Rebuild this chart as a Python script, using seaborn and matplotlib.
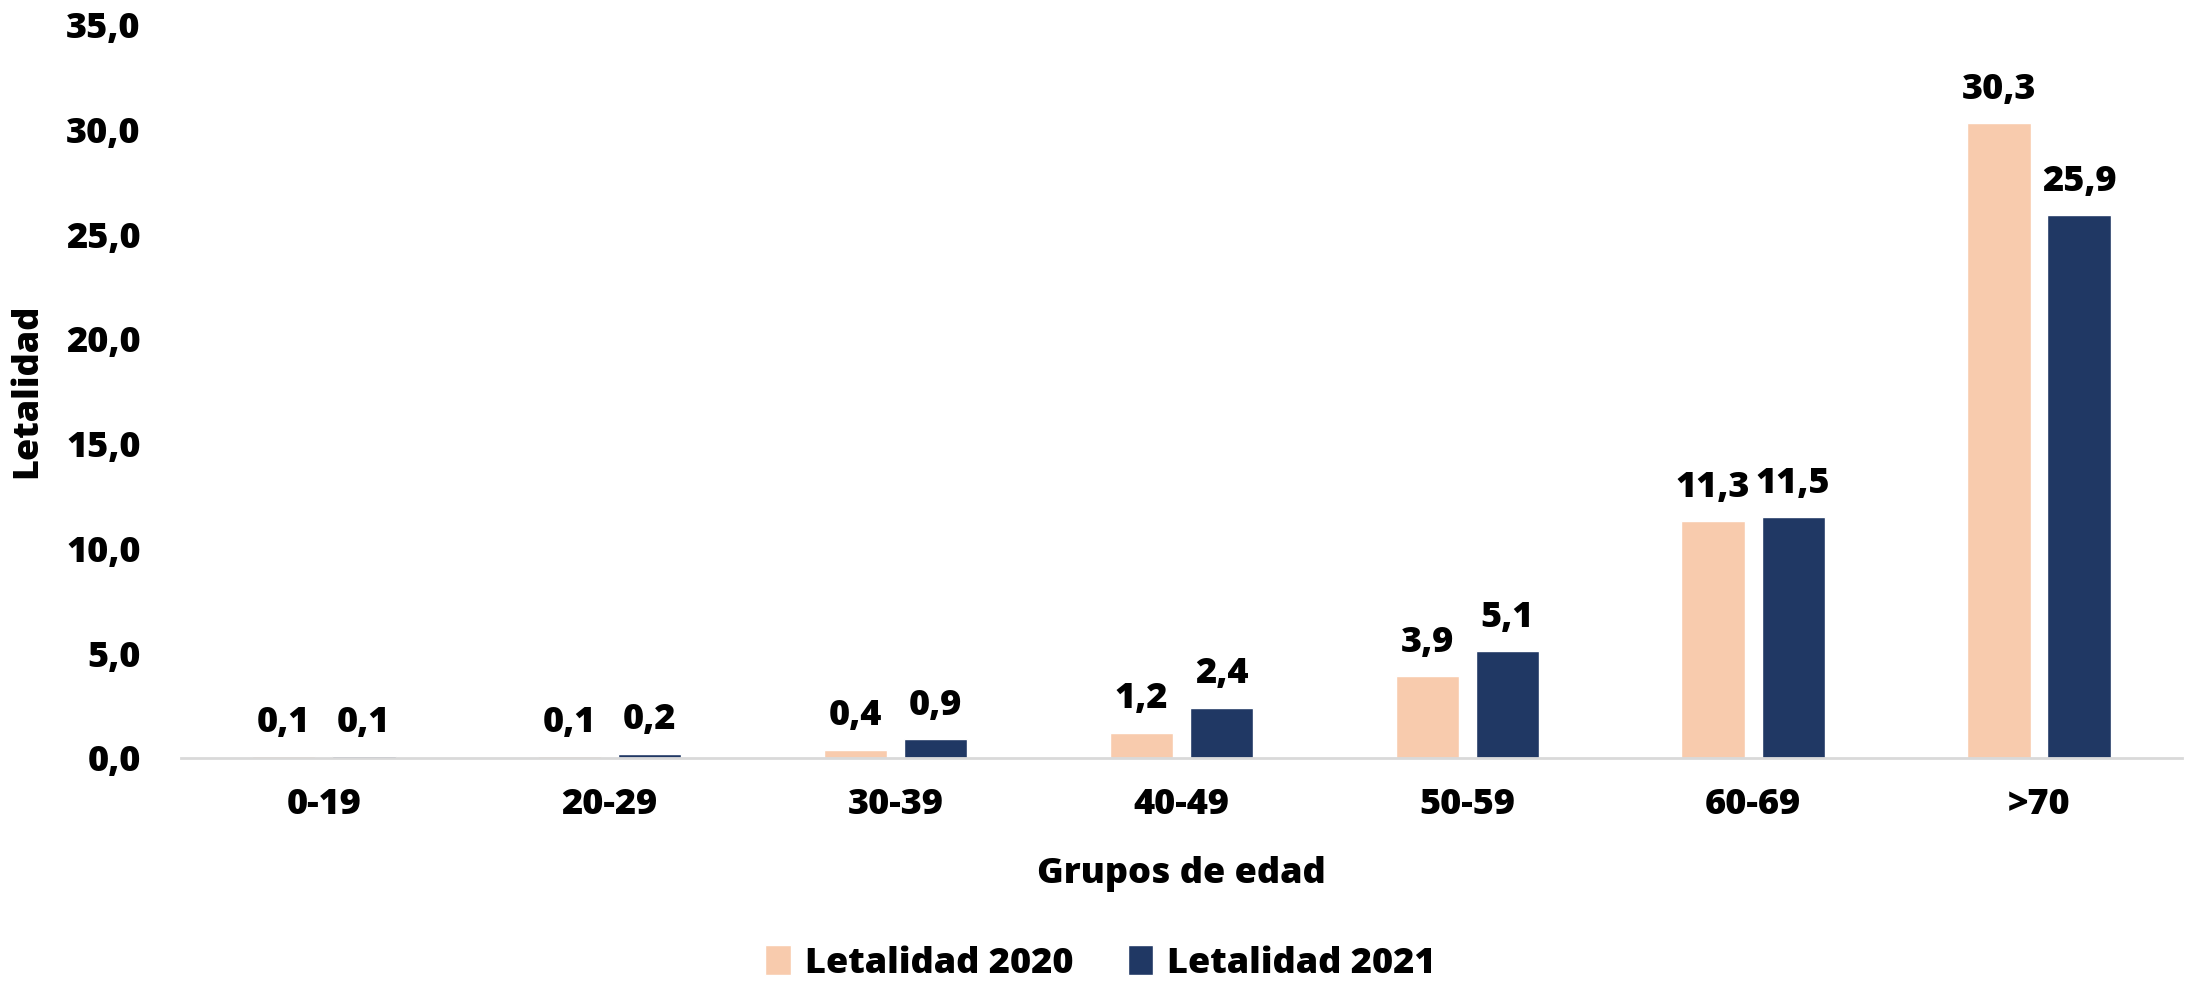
import pandas as pd
import matplotlib.pyplot as plt
import seaborn as sns
from matplotlib.ticker import FuncFormatter

grupos = ["0-19", "20-29", "30-39", "40-49", "50-59", "60-69", ">70"]
let_2020 = [0.1, 0.1, 0.4, 1.2, 3.9, 11.3, 30.3]
let_2021 = [0.1, 0.2, 0.9, 2.4, 5.1, 11.5, 25.9]
series = ["Letalidad 2020", "Letalidad 2021"]
colores = ["#F8CBAD", "#203864"]

df = pd.DataFrame({
    "grupo": grupos * 2,
    "valor": let_2020 + let_2021,
    "serie": [series[0]] * len(grupos) + [series[1]] * len(grupos),
})

sns.set_style("white")
plt.rcParams["font.family"] = ["Open Sans", "DejaVu Sans"]
plt.rcParams["font.weight"] = "heavy"
plt.rcParams["text.color"] = "black"
plt.rcParams["axes.labelcolor"] = "black"
plt.rcParams["xtick.color"] = "black"
plt.rcParams["ytick.color"] = "black"

fig = plt.figure(figsize=(21.88, 9.83), dpi=100)
ax = fig.add_axes([0.0827, 0.229, 0.9145, 0.746])

sns.barplot(data=df, x="grupo", y="valor", hue="serie", palette=colores,
            width=0.56, gap=0.21, ax=ax, legend=True, saturation=1)

coma = lambda v: f"{v:.1f}".replace(".", ",")
fs = 26
fw = "heavy"
for cont in ax.containers:
    ax.bar_label(cont, labels=[coma(b.get_height()) for b in cont],
                 padding=11, fontsize=fs, fontweight=fw, color="black")

ax.set_ylim(0, 35)
ax.set_xlim(-0.5, 6.5)
ax.set_yticks(range(0, 36, 5))
ax.yaxis.set_major_formatter(FuncFormatter(lambda v, p: coma(v)))
ax.tick_params(axis="both", labelsize=fs, length=0, labelcolor="black")
ax.tick_params(axis="y", pad=29)
ax.tick_params(axis="x", pad=21)
for lab in ax.get_xticklabels() + ax.get_yticklabels():
    lab.set_fontweight(fw)

ax.set_xlabel("Grupos de edad", fontsize=fs, fontweight=fw, labelpad=24)
ax.set_ylabel("Letalidad", fontsize=fs, fontweight=fw)
ax.yaxis.set_label_coords(-0.068, 0.5)

for s in ["top", "right", "left"]:
    ax.spines[s].set_visible(False)
ax.spines["bottom"].set_color("#D9D9D9")
ax.spines["bottom"].set_linewidth(2)

handles, labels = ax.get_legend_handles_labels()
ax.legend_.remove()
fig.legend(handles, labels, loc="center", bbox_to_anchor=(0.503, 0.02),
           ncol=2, frameon=False, handlelength=0.7,
           handleheight=0.9, handletextpad=0.4, columnspacing=1.5,
           prop={"weight": fw, "size": fs}, labelcolor="black")

fig.savefig("out.png", dpi=100)
